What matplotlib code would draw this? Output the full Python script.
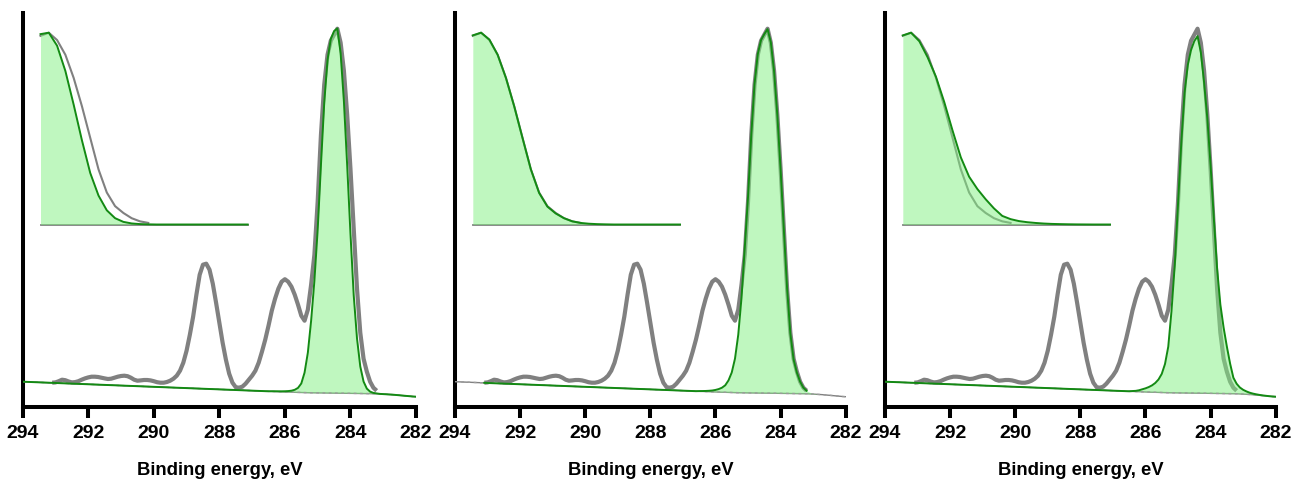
import numpy as np
import matplotlib
matplotlib.use("Agg")
import matplotlib.pyplot as plt

plt.rcParams['font.family'] = ['Liberation Sans', 'DejaVu Sans']

# ---------------- data (a.u.) ----------------
# full energy grid 294.0 -> 282.0 eV, step 0.1 eV
energy_full = np.round(np.arange(2940, 2819, -1) / 10.0, 1)

background = [
    25.00, 24.87, 24.74, 24.62, 24.49, 24.36, 24.23, 24.10, 23.98, 23.85,
    23.72, 23.59, 23.46, 23.34, 23.21, 23.08, 22.95, 22.82, 22.70, 22.57,
    22.44, 22.31, 22.18, 22.06, 21.93, 21.80, 21.67, 21.54, 21.42, 21.29,
    21.16, 21.03, 20.90, 20.78, 20.65, 20.52, 20.39, 20.26, 20.14, 20.01,
    19.88, 19.75, 19.62, 19.50, 19.37, 19.24, 19.11, 18.98, 18.86, 18.73,
    18.60, 18.47, 18.34, 18.22, 18.09, 17.96, 17.83, 17.70, 17.58, 17.45,
    17.32, 17.19, 17.06, 16.94, 16.81, 16.68, 16.55, 16.42, 16.30, 16.17,
    16.04, 15.91, 15.78, 15.66, 15.53, 15.40, 15.27, 15.14, 15.02, 14.89,
    14.76, 14.63, 14.50, 14.40, 14.30, 14.20, 14.10, 14.00, 13.95, 13.90,
    13.85, 13.80, 13.75, 13.70, 13.65, 13.60, 13.55, 13.50, 13.45, 13.40,
    13.35, 13.30, 13.25, 13.20, 13.15, 13.10, 13.05, 13.00, 12.95, 12.80,
    12.60, 12.40, 12.20, 12.00, 11.70, 11.40, 11.10, 10.80, 10.50, 10.20,
    10.00,
]

# measured C 1s spectrum, 293.1 -> 283.2 eV
energy_spec = np.round(np.arange(2931, 2831, -1) / 10.0, 1)
spectrum = [
    24.0, 24.3, 25.5, 27.0, 26.5, 25.2, 24.3, 24.6, 25.5, 27.0,
    28.3, 29.3, 30.0, 30.0, 29.7, 29.0, 28.3, 27.7, 28.0, 29.0,
    30.0, 30.7, 31.0, 30.5, 29.0, 27.0, 26.0, 26.3, 26.7, 26.7,
    26.3, 25.5, 24.5, 24.0, 24.0, 24.7, 26.0, 28.0, 31.0, 36.0,
    44.0, 56.0, 72.0, 90.0, 112.0, 132.0, 142.0, 143.0, 137.0, 123.0,
    104.0, 84.0, 64.0, 47.0, 33.0, 24.0, 19.5, 19.0, 20.0, 23.0,
    27.0, 31.0, 36.0, 44.0, 55.0, 67.0, 81.0, 96.0, 108.0, 118.0,
    125.0, 127.5, 125.0, 120.0, 112.0, 102.0, 91.0, 86.0, 97.0, 122.0,
    152.0, 205.0, 272.0, 322.0, 352.0, 366.0, 372.0, 378.0, 364.0, 336.0,
    292.0, 238.0, 178.0, 118.0, 74.0, 48.0, 35.0, 25.0, 19.0, 16.0,
]

# fitted C-C component above background, 286.6 -> 282.0 eV
energy_fit = np.round(np.arange(2866, 2819, -1) / 10.0, 1)
peak_fit_1 = [
    0.0, 0.0, 0.2, 0.3, 0.4, 0.5, 0.7, 1.0, 1.5, 2.5,
    4.5, 9.0, 20.0, 40.0, 72.0, 112.0, 163.0, 228.0, 290.0, 333.0,
    354.0, 362.0, 364.7, 340.0, 292.0, 228.0, 160.0, 98.0, 55.0, 27.0,
    12.0, 5.0, 2.0, 0.8, 0.3, 0.0, 0.0, 0.0, 0.0, 0.0,
    0.0, 0.0, 0.0, 0.0, 0.0, 0.0, 0.0,
]
peak_fit_2 = [
    0.0, 0.2, 0.4, 0.6, 0.9, 1.3, 2.0, 3.0, 4.5, 7.0,
    12.0, 20.0, 34.0, 58.0, 95.0, 145.0, 196.0, 258.0, 309.0, 339.0,
    353.0, 359.0, 364.0, 351.0, 322.0, 278.0, 224.0, 164.0, 105.0, 60.0,
    34.0, 21.0, 12.0, 6.0, 3.0, 1.5, 0.7, 0.3, 0.0, 0.0,
    0.0, 0.0, 0.0, 0.0, 0.0, 0.0, 0.0,
]
peak_fit_3 = [
    0.0, 0.0, 0.4, 0.7, 1.4, 2.5, 3.6, 5.0, 6.8, 9.3,
    12.9, 18.6, 28.6, 46.0, 82.0, 128.0, 189.0, 250.0, 300.0, 328.0,
    343.0, 352.0, 357.0, 341.0, 311.0, 275.0, 228.0, 175.0, 125.0, 89.0,
    66.0, 47.0, 30.0, 16.0, 10.0, 6.4, 4.3, 2.9, 1.8, 1.1,
    0.7, 0.4, 0.2, 0.1, 0.0, 0.0, 0.0,
]
peak_fits = [peak_fit_1, peak_fit_2, peak_fit_3]

x_ticks = [294, 292, 290, 288, 286, 284, 282]
x_label = "Binding energy, eV"

# ---------------- styles ----------------
W, H = 1291, 479
GRAY = '#808080'
GREEN = '#138a13'
FILL = '#80f080'
FILL_ALPHA = 0.5

panel_left = [22.7, 455.0, 885.0]
panel_width = [393.3, 390.7, 390.7]
ax_top, ax_bottom = 12.7, 406.7
full_green_env = [True, False, True]

background = np.asarray(background)
spectrum = np.asarray(spectrum)
idx_fit = np.rint((294.0 - energy_fit) * 10).astype(int)
idx_spec = np.rint((294.0 - energy_spec) * 10).astype(int)
bg_fit = background[idx_fit]
bg_spec = background[idx_spec]

fig = plt.figure(figsize=(W / 100, H / 100), dpi=100)

for i in range(3):
    L = panel_left[i]
    Wd = panel_width[i]
    ax = fig.add_axes([L / W, (H - ax_bottom) / H, Wd / W, (ax_bottom - ax_top) / H])
    peak = np.asarray(peak_fits[i])
    env_fit = bg_fit + peak
    env_full = background.copy()
    env_full[idx_fit] += peak

    # thin line along full range
    ax.plot(energy_full, background, color=GRAY, lw=1.0, zorder=1.5)
    # measured spectrum
    ax.plot(energy_spec, spectrum, color=GRAY, lw=3.0, zorder=2,
            solid_joinstyle='round', solid_capstyle='butt')
    # fitted component fill
    ax.fill_between(energy_fit, bg_fit, env_fit, color=FILL, alpha=FILL_ALPHA,
                    lw=0, zorder=3)
    # dotted background
    ax.plot(energy_full, background, color='#9a9a9a', lw=1.0,
            linestyle=(0, (2, 2.5)), zorder=3.5)
    # fit envelope
    if full_green_env[i]:
        ax.plot(energy_full, env_full, color=GREEN, lw=1.4, zorder=4)
    else:
        m = (energy_full <= 293.1) & (energy_full >= 283.2)
        ax.plot(energy_full[m], env_full[m], color=GREEN, lw=1.4, zorder=4)

    ax.set_xlim(294, 282)
    ax.set_ylim(0, ax_bottom - ax_top)
    ax.set_xticks(x_ticks)
    ax.set_xticklabels([str(t) for t in x_ticks], fontsize=14, fontweight='bold')
    ax.set_yticks([])
    for s in ['top', 'right']:
        ax.spines[s].set_visible(False)
    for s in ['left', 'bottom']:
        ax.spines[s].set_linewidth(2.9)
    ax.tick_params(axis='x', direction='out', length=8, width=2.9, pad=5)
    ax.set_xlabel(x_label, fontsize=13.3, fontweight='bold', labelpad=14.5)

    # ---------- inset ----------
    il = L + 17.8
    iw = 207.2
    ib = 224.5
    it = 32.7
    ins = fig.add_axes([il / W, (H - ib) / H, iw / W, (ib - it) / H])
    ins.set_xlim(284.5, 282.0)
    ins.set_ylim(0, 1)
    ins.axis('off')
    m_spec = energy_spec <= 284.5
    g = spectrum[m_spec] - bg_spec[m_spec]
    g = g / g.max()
    m_fit = energy_fit <= 284.5
    p = peak[m_fit] / peak.max()
    ins.plot([284.5, 282.0], [0, 0], color=GRAY, lw=1.3, zorder=1, clip_on=False)
    ins.plot(energy_spec[m_spec], g, color=GRAY, lw=1.5, zorder=2, clip_on=False)
    ins.fill_between(energy_fit[m_fit], 0, p, color=FILL, alpha=FILL_ALPHA, lw=0, zorder=3)
    ins.plot(energy_fit[m_fit], p, color=GREEN, lw=1.4, zorder=4, clip_on=False)

fig.savefig("out.png", dpi=100)
